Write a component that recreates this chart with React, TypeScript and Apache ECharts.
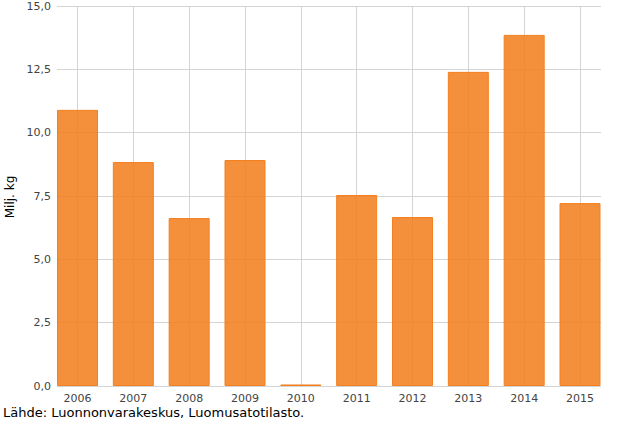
import React, { useEffect, useRef } from "react";
import * as echarts from "echarts";

const years = ["2006", "2007", "2008", "2009", "2010", "2011", "2012", "2013", "2014", "2015"];
const values = [10.9, 8.84, 6.63, 8.92, 0.06, 7.54, 6.67, 12.4, 13.86, 7.22];
const yTicks = [0, 2.5, 5, 7.5, 10, 12.5, 15];
const yTitle = "Milj. kg";
const source = "Lähde: Luonnonvarakeskus, Luomusatotilasto.";

const FONT = "DejaVu Sans";

export default function App() {
  const ref = useRef<HTMLDivElement>(null);
  useEffect(() => {
    if (!ref.current) return;
    const chart = echarts.init(ref.current, undefined, { renderer: "svg" });
    const yMax = yTicks[yTicks.length - 1];
    const yStep = yTicks[1] - yTicks[0];
    chart.setOption({
      animation: false,
      grid: [
        { left: 57, right: 23, top: 6, bottom: 42 },
        { left: 77.5, right: 44, top: 6, bottom: 42 },
      ],
      xAxis: [
        { type: "value", gridIndex: 0, min: 0, max: 1, show: false },
        {
          type: "category",
          gridIndex: 1,
          data: years,
          boundaryGap: false,
          axisLine: { show: false },
          axisTick: { show: false },
          axisLabel: { color: "#444", fontFamily: FONT, fontSize: 11, margin: 6, lineHeight: 12 },
          splitLine: { show: true, lineStyle: { color: "#d4d4d4", width: 1 } },
        },
      ],
      yAxis: [
        {
          type: "value",
          gridIndex: 0,
          min: 0,
          max: yMax,
          interval: yStep,
          axisLine: { show: false },
          axisTick: { show: false },
          axisLabel: {
            color: "#444",
            fontFamily: FONT,
            fontSize: 11,
            margin: 6,
            formatter: (v: number) => v.toFixed(1).replace(".", ","),
          },
          splitLine: { show: true, lineStyle: { color: "#d4d4d4", width: 1 } },
        },
        { type: "value", gridIndex: 1, min: 0, max: yMax, show: false },
      ],
      series: [
        {
          type: "bar",
          xAxisIndex: 1,
          yAxisIndex: 1,
          data: values,
          barWidth: 41,
          clip: false,
          itemStyle: {
            color: "rgba(243,128,32,0.88)",
            borderColor: "#F38020",
            borderWidth: 1,
          },
        },
      ],
      graphic: [
        {
          type: "text",
          x: 4,
          y: 197,
          rotation: Math.PI / 2,
          style: {
            text: yTitle,
            fill: "#000",
            font: `12px "${FONT}"`,
            textAlign: "center",
            textVerticalAlign: "top",
          },
        },
        {
          type: "text",
          x: 3,
          y: 406,
          style: {
            text: source,
            fill: "#000",
            font: `13px "${FONT}"`,
            textAlign: "left",
            textVerticalAlign: "top",
          },
        },
      ],
    });
    return () => chart.dispose();
  }, []);
  return (
    <div
      ref={ref}
      style={{ position: "absolute", left: 0, top: 0, width: 624, height: 428 }}
    />
  );
}
